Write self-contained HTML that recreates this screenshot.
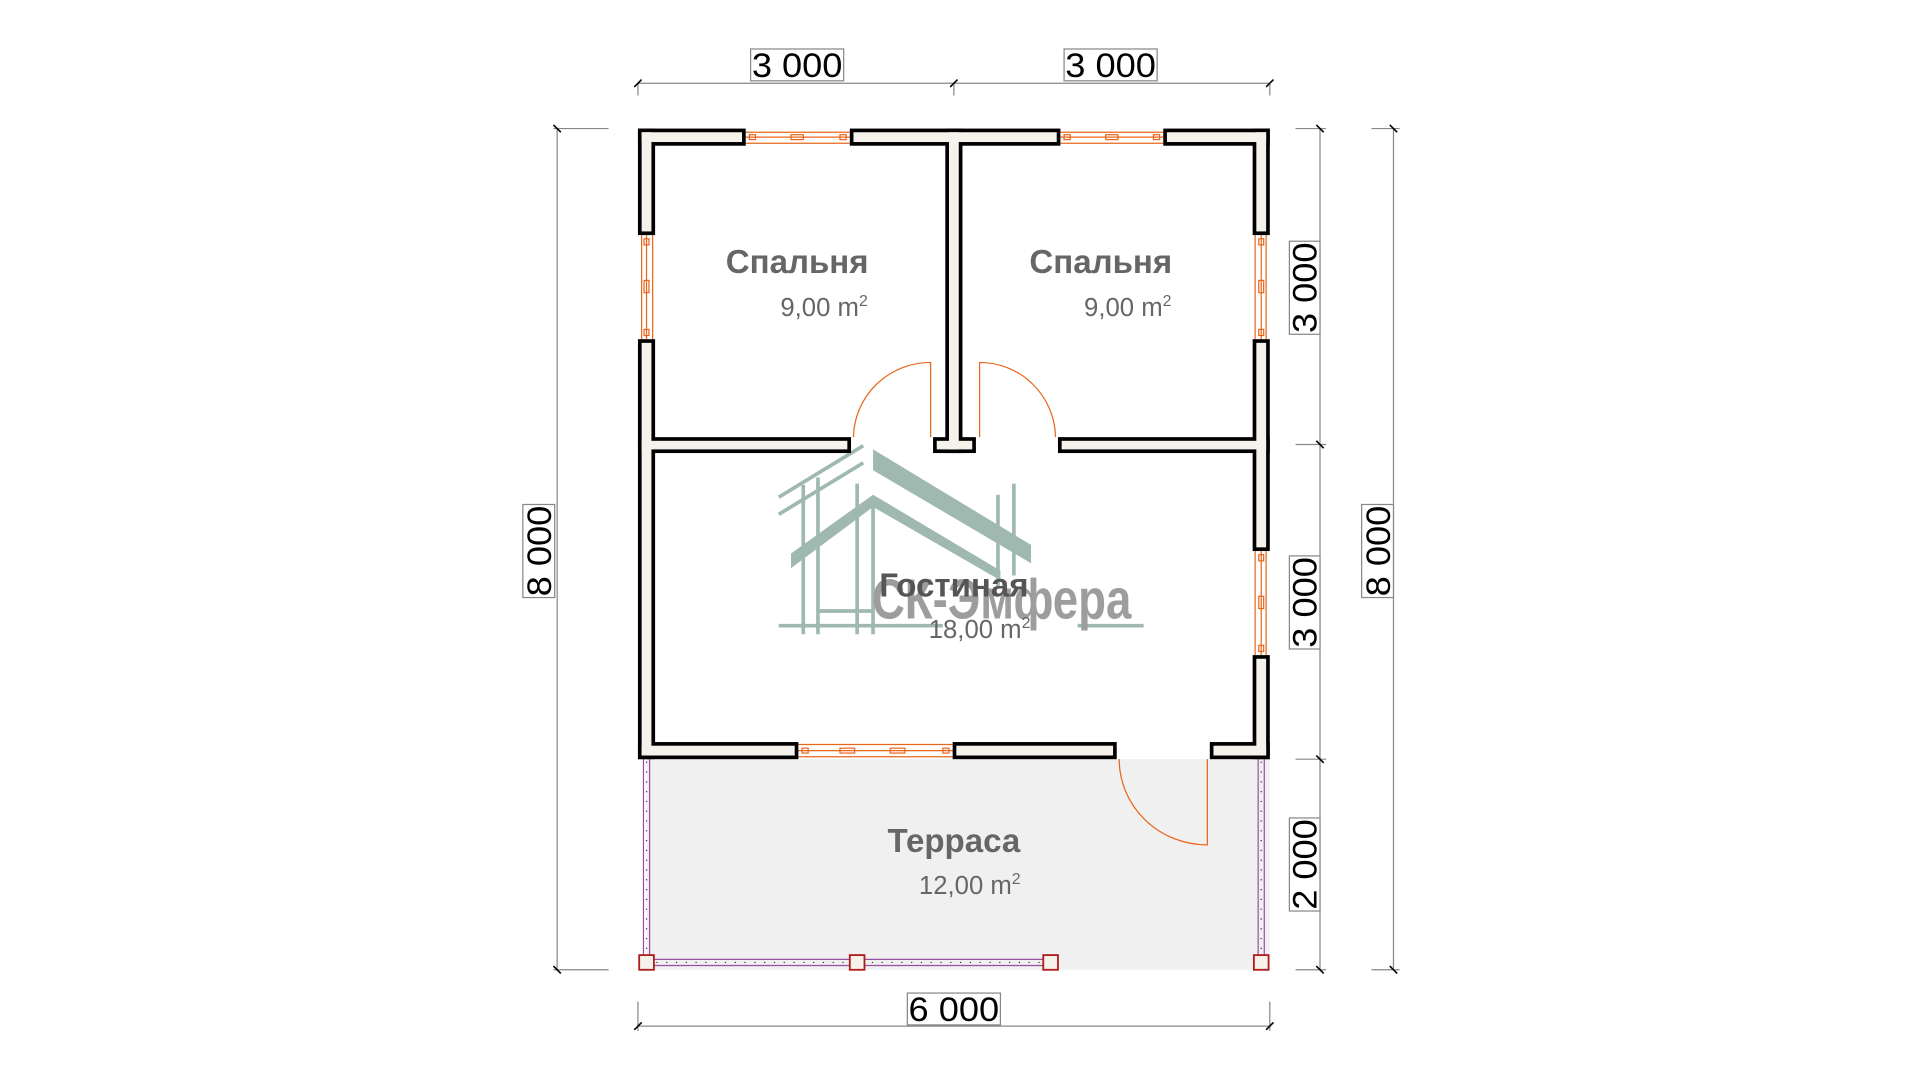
<!DOCTYPE html>
<html><head><meta charset="utf-8"><style>
html,body{margin:0;padding:0;background:#fff;width:1920px;height:1080px;overflow:hidden}
svg{display:block}
text{font-family:"Liberation Sans",sans-serif}
</style></head><body>
<svg width="1920" height="1080" viewBox="0 0 1568 882" xmlns="http://www.w3.org/2000/svg">
<!-- terrace -->
<rect x="528" y="620" width="509" height="172" fill="#f0f0f0"/>
<g stroke="#9b4fa3" stroke-width="1" fill="none">
<line x1="525.5" y1="620" x2="525.5" y2="786"/><line x1="530.5" y1="620" x2="530.5" y2="786"/>
<line x1="1027.5" y1="620" x2="1027.5" y2="786"/><line x1="1032.5" y1="620" x2="1032.5" y2="786"/>
<line x1="528" y1="783.5" x2="858" y2="783.5"/><line x1="528" y1="788.5" x2="858" y2="788.5"/>
</g>
<g stroke="#333" stroke-width="1" stroke-dasharray="1 7" fill="none">
<line x1="528" y1="622" x2="528" y2="786"/><line x1="1030" y1="622" x2="1030" y2="786"/>
<line x1="528" y1="786" x2="858" y2="786"/>
</g>
<g fill="#f5f2ec" stroke="#b01e1e" stroke-width="1.5">
<rect x="522" y="780" width="12" height="12"/><rect x="694" y="780" width="12" height="12"/>
<rect x="852" y="780" width="12" height="12"/><rect x="1024" y="780" width="12" height="12"/>
</g>
<!-- watermark -->
<g fill="#9fb9b1" stroke="none">
<polygon points="646,452 713,404 817,466 817,474 713,414 646,464"/>
<polygon points="713,367 842,445 842,460 713,384"/>
</g>
<g stroke="#9fb9b1" stroke-width="3" fill="none">
<line x1="656" y1="396" x2="656" y2="518"/><line x1="668" y1="390" x2="668" y2="518"/>
<line x1="700" y1="395" x2="700" y2="518"/><line x1="713" y1="414" x2="713" y2="518"/>
<line x1="815" y1="404" x2="815" y2="480"/><line x1="828" y1="395" x2="828" y2="470"/>
<line x1="636" y1="406" x2="705" y2="364"/><line x1="636" y1="420" x2="705" y2="378"/>
<line x1="636" y1="511" x2="770" y2="511"/><line x1="880" y1="511" x2="934" y2="511"/>
<line x1="668" y1="499" x2="713" y2="499"/>
</g>
<text x="712" y="505" font-size="46" font-weight="bold" fill="#9d9d9d" textLength="212" lengthAdjust="spacingAndGlyphs">СК-Эмфера</text>
<!-- windows -->
<g stroke="#e8661c" stroke-width="1" fill="none">
<line x1="609" y1="108" x2="694" y2="108"/><line x1="609" y1="112" x2="694" y2="112"/><line x1="609" y1="117" x2="694" y2="117"/>
<rect x="612" y="110" width="5" height="4"/><rect x="646" y="110" width="10" height="4"/><rect x="686" y="110" width="5" height="4"/>
<line x1="866" y1="108" x2="950" y2="108"/><line x1="866" y1="112" x2="950" y2="112"/><line x1="866" y1="117" x2="950" y2="117"/>
<rect x="869" y="110" width="5" height="4"/><rect x="903" y="110" width="10" height="4"/><rect x="942" y="110" width="5" height="4"/>
<line x1="524" y1="192" x2="524" y2="277"/><line x1="528" y1="192" x2="528" y2="277"/><line x1="533" y1="192" x2="533" y2="277"/>
<rect x="526" y="195" width="4" height="5"/><rect x="526" y="229" width="4" height="10"/><rect x="526" y="269" width="4" height="5"/>
<line x1="1025" y1="192" x2="1025" y2="277"/><line x1="1030" y1="192" x2="1030" y2="277"/><line x1="1034" y1="192" x2="1034" y2="277"/>
<rect x="1028" y="195" width="4" height="5"/><rect x="1028" y="229" width="4" height="10"/><rect x="1028" y="269" width="4" height="5"/>
<line x1="1025" y1="450" x2="1025" y2="535"/><line x1="1030" y1="450" x2="1030" y2="535"/><line x1="1034" y1="450" x2="1034" y2="535"/>
<rect x="1028" y="453" width="4" height="5"/><rect x="1028" y="487" width="4" height="10"/><rect x="1028" y="527" width="4" height="5"/>
<line x1="652" y1="608" x2="778" y2="608"/><line x1="652" y1="613" x2="778" y2="613"/><line x1="652" y1="618" x2="778" y2="618"/>
<rect x="655" y="611" width="5" height="4"/><rect x="686" y="611" width="12" height="4"/><rect x="727" y="611" width="12" height="4"/><rect x="770" y="611" width="5" height="4"/>
<!-- doors -->
<path d="M697,357 A63,62 0 0 1 760,296 L760,357"/>
<path d="M800,357 L800,296 A62,62 0 0 1 862,357"/>
<path d="M914,620 A72,70 0 0 0 986,690 L986,620"/>
</g>
<!-- walls -->
<g fill="#000">
<rect x="521" y="105" width="88" height="14"/><rect x="694" y="105" width="172" height="14"/><rect x="950" y="105" width="87" height="14"/>
<rect x="521" y="105" width="14" height="87"/><rect x="521" y="277" width="14" height="343"/>
<rect x="1023" y="105" width="14" height="87"/><rect x="1023" y="277" width="14" height="173"/><rect x="1023" y="535" width="14" height="85"/>
<rect x="772" y="105" width="14" height="265"/><rect x="762" y="357" width="35" height="13"/>
<rect x="521" y="357" width="174" height="13"/><rect x="864" y="357" width="173" height="13"/>
<rect x="521" y="606" width="131" height="14"/><rect x="778" y="606" width="134" height="14"/><rect x="988" y="606" width="49" height="14"/>
</g>
<g fill="#f5f2ec">
<rect x="524" y="108" width="82" height="8"/><rect x="697" y="108" width="166" height="8"/><rect x="953" y="108" width="81" height="8"/>
<rect x="524" y="108" width="8" height="81"/><rect x="524" y="280" width="8" height="337"/>
<rect x="1026" y="108" width="8" height="81"/><rect x="1026" y="280" width="8" height="167"/><rect x="1026" y="538" width="8" height="79"/>
<rect x="775" y="108" width="8" height="259"/><rect x="765" y="360" width="29" height="7"/>
<rect x="524" y="360" width="168" height="7"/><rect x="867" y="360" width="167" height="7"/>
<rect x="524" y="609" width="125" height="8"/><rect x="781" y="609" width="128" height="8"/><rect x="991" y="609" width="43" height="8"/>
</g>
<!-- room labels -->
<g fill="#666" text-anchor="middle">
<text x="651" y="223" font-size="27" font-weight="bold">Спальня</text>
<text x="673" y="258" font-size="21">9,00 m<tspan font-size="13" dy="-8">2</tspan></text>
<text x="899" y="223" font-size="27" font-weight="bold">Спальня</text>
<text x="921" y="258" font-size="21">9,00 m<tspan font-size="13" dy="-8">2</tspan></text>
<text x="779" y="487" font-size="27" font-weight="bold" fill="#555">Гостиная</text>
<text x="800" y="521" font-size="21">18,00 m<tspan font-size="13" dy="-8">2</tspan></text>
<text x="779" y="696" font-size="27" font-weight="bold">Терраса</text>
<text x="792" y="730" font-size="21">12,00 m<tspan font-size="13" dy="-8">2</tspan></text>
</g>
<!-- dimensions -->
<g stroke="#888" stroke-width="1" fill="none">
<line x1="521" y1="68" x2="1037" y2="68"/><line x1="521" y1="68" x2="521" y2="78"/><line x1="779" y1="68" x2="779" y2="78"/><line x1="1037" y1="68" x2="1037" y2="78"/>
<line x1="521" y1="838" x2="1037" y2="838"/><line x1="521" y1="818" x2="521" y2="842"/><line x1="1037" y1="818" x2="1037" y2="842"/>
<line x1="455" y1="105" x2="455" y2="792"/><line x1="452" y1="105" x2="497" y2="105"/><line x1="452" y1="792" x2="497" y2="792"/>
<line x1="1078" y1="105" x2="1078" y2="792"/><line x1="1058" y1="105" x2="1083" y2="105"/><line x1="1058" y1="363" x2="1083" y2="363"/><line x1="1058" y1="620" x2="1083" y2="620"/><line x1="1058" y1="792" x2="1083" y2="792"/>
<line x1="1138" y1="105" x2="1138" y2="792"/><line x1="1120" y1="105" x2="1143" y2="105"/><line x1="1120" y1="792" x2="1143" y2="792"/>
</g>
<g stroke="#000" stroke-width="1.3">
<line x1="518" y1="71" x2="524" y2="65"/><line x1="776" y1="71" x2="782" y2="65"/><line x1="1034" y1="71" x2="1040" y2="65"/>
<line x1="518" y1="841" x2="524" y2="835"/><line x1="1034" y1="841" x2="1040" y2="835"/>
<line x1="452" y1="102" x2="458" y2="108"/><line x1="452" y1="789" x2="458" y2="795"/>
<line x1="1075" y1="102" x2="1081" y2="108"/><line x1="1075" y1="360" x2="1081" y2="366"/><line x1="1075" y1="617" x2="1081" y2="623"/><line x1="1075" y1="789" x2="1081" y2="795"/>
<line x1="1135" y1="102" x2="1141" y2="108"/><line x1="1135" y1="789" x2="1141" y2="795"/>
</g>
<g fill="#fff" stroke="#888" stroke-width="1">
<rect x="613" y="40" width="76" height="26"/><rect x="869" y="40" width="76" height="26"/>
<rect x="741" y="811" width="76" height="26"/>
<rect x="427" y="412" width="26" height="76"/><rect x="1112" y="412" width="26" height="76"/>
<rect x="1053" y="197" width="25" height="76"/><rect x="1053" y="454" width="25" height="76"/><rect x="1053" y="668" width="25" height="76"/>
</g>
<g fill="#000" font-size="28" text-anchor="middle">
<text x="651" y="63" textLength="74" lengthAdjust="spacingAndGlyphs">3 000</text><text x="907" y="63" textLength="74" lengthAdjust="spacingAndGlyphs">3 000</text><text x="779" y="834" textLength="74" lengthAdjust="spacingAndGlyphs">6 000</text>
<text transform="translate(450,450) rotate(-90)" textLength="74" lengthAdjust="spacingAndGlyphs">8 000</text>
<text transform="translate(1135,450) rotate(-90)" textLength="74" lengthAdjust="spacingAndGlyphs">8 000</text>
<text transform="translate(1075,235) rotate(-90)" textLength="74" lengthAdjust="spacingAndGlyphs">3 000</text>
<text transform="translate(1075,492) rotate(-90)" textLength="74" lengthAdjust="spacingAndGlyphs">3 000</text>
<text transform="translate(1075,706) rotate(-90)" textLength="74" lengthAdjust="spacingAndGlyphs">2 000</text>
</g>
</svg>
</body></html>
